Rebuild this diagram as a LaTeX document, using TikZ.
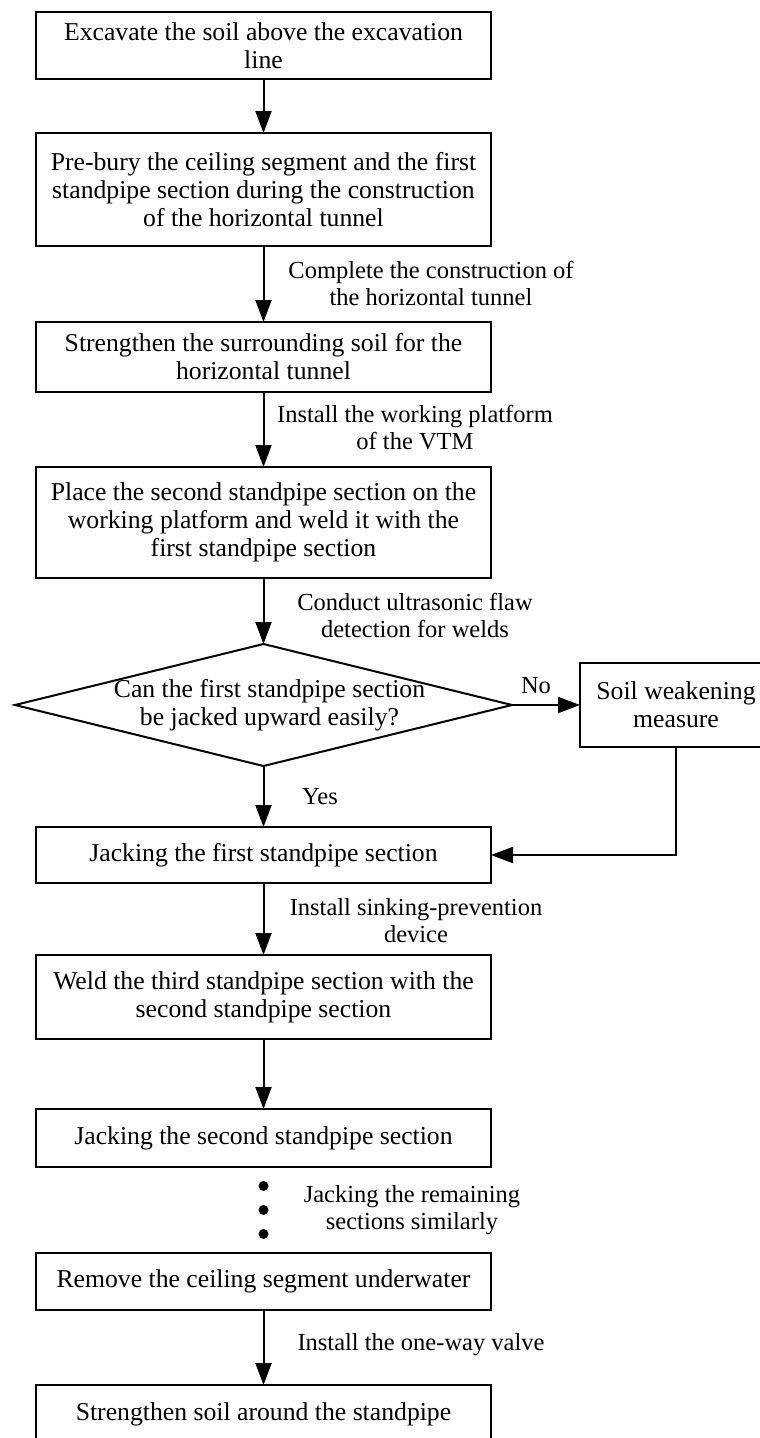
\documentclass[tikz,border=0pt]{standalone}
\usepackage{fontspec}
\setmainfont{Liberation Serif}
\usetikzlibrary{positioning}
\usetikzlibrary{arrows.meta,shapes.geometric}

\begin{document}
\begin{tikzpicture}[x=1pt, y=-1pt, line width=2pt,
  txt/.style={align=center, inner sep=0pt, font=\fontsize{25.7}{28}\selectfont},
  main/.style={txt, rectangle, draw, line width=2pt, outer sep=0pt, minimum width=455pt},
  dec/.style={diamond, draw, line width=2pt, outer sep=0pt, minimum width=497pt, minimum height=122pt, inner sep=0pt},
  lab/.style={align=center, inner sep=0pt, font=\fontsize{24.5}{27}\selectfont},
  ar/.style={-{Triangle[length=22pt, width=16pt]}}]
  \useasboundingbox (0,0) rectangle (760,1438);

  \node[main, minimum height=67pt] (1) at (263.5,45.5) {Excavate the soil above the excavation\\line};
  \node[main, minimum height=113pt] (2) [below=54pt of 1] {Pre-bury the ceiling segment and the first\\standpipe section during the construction\\of the horizontal tunnel};
  \node[main, minimum height=70pt] (3) [below=76pt of 2] {Strengthen the surrounding soil for the\\horizontal tunnel};
  \node[main, minimum height=111pt] (4) [below=75pt of 3] {Place the second standpipe section on the\\working platform and weld it with the\\first standpipe section};
  \node[dec] (5) [below=66pt of 4] {};
  \node[txt] (5t) at ([xshift=6pt]5.center) {Can the first standpipe section\\be jacked upward easily?};
  \node[main, minimum width=192pt, minimum height=84pt] (6) [right=68pt of 5] {Soil weakening\\measure};
  \node[main, minimum height=56pt] (7) [below=61pt of 5] {Jacking the first standpipe section};
  \node[main, minimum height=84pt] (8) [below=72pt of 7] {Weld the third standpipe section with the\\second standpipe section};
  \node[main, minimum height=58pt] (9) [below=70pt of 8] {Jacking the second standpipe section};
  \node[main, minimum height=57pt] (10) [below=86pt of 9] {Remove the ceiling segment underwater};
  \node[main, minimum height=58pt] (11) [below=75pt of 10] {Strengthen soil around the standpipe};

  \node[lab] (l1) at (431,283) {Complete the construction of\\the horizontal tunnel};
  \node[lab] (l2) at (415,428) {Install the working platform\\of the VTM};
  \node[lab] (l3) at (415,615) {Conduct ultrasonic flaw\\detection for welds};
  \node[lab] (no) at (536,686) {No};
  \node[lab] (yes) at (320,797) {Yes};
  \node[lab] (l4) at (416,921) {Install sinking-prevention\\device};
  \node[lab] (l5) at (412,1210) {Jacking the remaining\\sections similarly};
  \node[lab] (l6) at (421,1345) {Install the one-way valve};

  \foreach \y in {1186,1210,1234}
    \fill (263.5,\y) circle[radius=5pt];

  \draw[ar] (1) -- (2);
  \draw[ar] (2) -- (3);
  \draw[ar] (3) -- (4);
  \draw[ar] (4) -- (5);
  \draw[ar] (5) -- (6);
  \draw[ar] (5) -- (7);
  \draw[ar] (6) |- (7);
  \draw[ar] (7) -- (8);
  \draw[ar] (8) -- (9);
  \draw[ar] (10) -- (11);
\end{tikzpicture}
\end{document}
